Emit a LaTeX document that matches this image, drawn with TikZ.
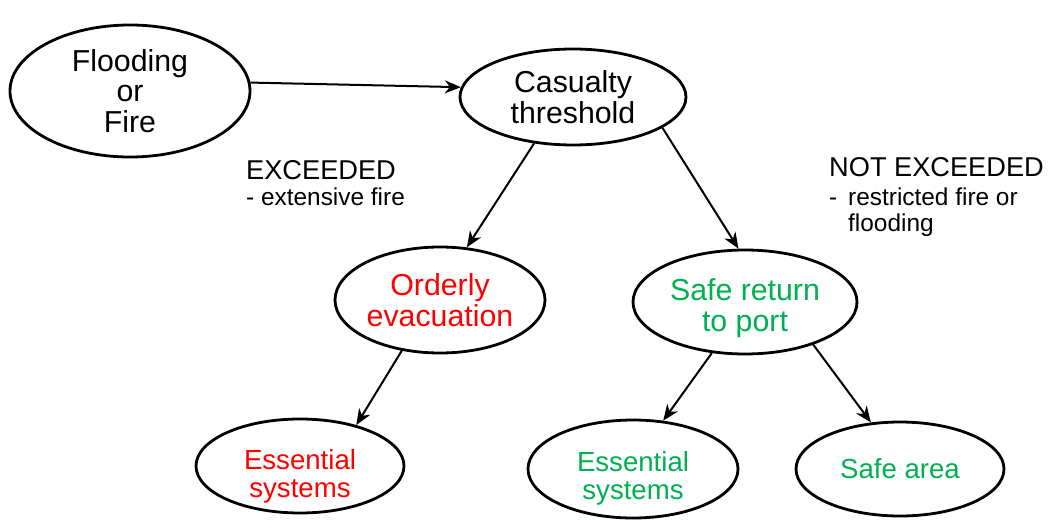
\documentclass[tikz,border=0pt]{standalone}
\usepackage{fontspec}
\setmainfont{Liberation Sans}
\usetikzlibrary{shapes.geometric,arrows.meta}
\definecolor{myred}{RGB}{255,0,0}
\definecolor{mygreen}{RGB}{0,176,80}
\tikzset{
  oval/.style={ellipse, draw=black, line width=2.8pt, inner sep=0pt, align=center},
  bigtext/.style={font=\fontsize{30.3}{30.5}\selectfont},
  smalltext/.style={font=\fontsize{27.6}{28}\selectfont},
  conn/.style={line width=2pt, -{Stealth[length=16pt,width=13pt,inset=5pt]}},
  head/.style={inner sep=0pt, anchor=base west, font=\fontsize{27.2}{28}\selectfont},
  sub/.style={inner sep=0pt, anchor=base west, font=\fontsize{24.4}{27}\selectfont},
}
\begin{document}
\begin{tikzpicture}[x=1pt,y=-1pt]
\useasboundingbox (0,0) rectangle (1048,529);
\node[oval, bigtext, minimum width=240pt, minimum height=132pt] (ff) at (130,91) {Flooding\\or\\Fire};
\node[oval, bigtext, minimum width=226pt, minimum height=96pt] (ct) at (573,97) {Casualty\\threshold};
\node[oval, bigtext, text=myred, minimum width=210pt, minimum height=106pt] (oe) at (440,300) {Orderly\\evacuation};
\node[oval, bigtext, text=mygreen, minimum width=224pt, minimum height=104pt, text depth=0pt, text height=58pt] (sr) at (745,302) {Safe return\\to port};
\node[oval, smalltext, text=myred, minimum width=208pt, minimum height=94pt, text depth=0pt, text height=62pt] (es1) at (300,466) {Essential\\systems};
\node[oval, smalltext, text=mygreen, minimum width=210pt, minimum height=98pt, text depth=0pt, text height=60pt] (es2) at (633,469) {Essential\\systems};
\node[oval, smalltext, text=mygreen, minimum width=208pt, minimum height=94pt] (sa) at (900,469) {Safe area};

\node[head] (exc) at (246,180) {EXCEEDED};
\node[sub] (exct) at (246,206) {- extensive fire};
\node[head] (nexc) at (829,177) {NOT EXCEEDED};
\node[sub] (dash) at (829,206) {-};
\node[sub] (rest) at (848,206) {restricted fire or};
\node[sub] (flood) at (848,232) {flooding};

\draw[conn] (ff.4) -- (ct.175);
\draw[conn] (ct.230) -- (oe.63);
\draw[conn] (ct.-19) -- (sr.97);
\draw[conn] (oe.233) -- (es1.36);
\draw[conn] (sr.237) -- (es2.58);
\draw[conn] (sr.328) -- (sa.122);
\end{tikzpicture}
\end{document}
